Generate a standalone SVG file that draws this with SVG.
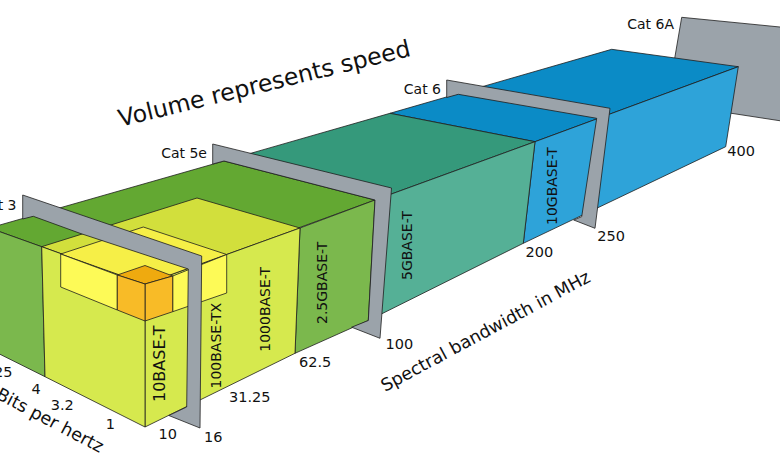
<svg xmlns="http://www.w3.org/2000/svg" width="780" height="470" viewBox="0 0 780 470">
<style>
  .e { stroke: #1e1e1e; stroke-width: 0.8; stroke-linejoin: round; }
  .plate { fill: #9ba3aa; }
  .blueT { fill: #0b8bc6; } .blueF { fill: #2ea3d9; }
  .tealT { fill: #35997b; } .tealF { fill: #55b096; }
  .grnT { fill: #63a832; } .grnF { fill: #7bb84d; }
  .lygT { fill: #d2df3c; } .lygF { fill: #d6e94e; }
  .yelT { fill: #f6ef47; } .yelF { fill: #fdfa57; }
  .orgT { fill: #efaa0f; } .orgF { fill: #f8bb27; }
  text { font-family: "DejaVu Sans", "Liberation Sans", sans-serif; fill: #111; }
  .tick { font-size: 14.5px; }
  .cat { font-size: 14px; text-anchor: end; }
  .std { font-size: 14px; }
  .axis { font-size: 17.5px; }
</style>
<rect width="780" height="470" fill="#ffffff"/>

<g id="cat6a">
  <polygon class="plate e" points="681.7,17.3 790,28 790,122.3 667,103.4"/>
</g>

<g id="box-10gbase-t">
  <polygon class="blueT e" points="390,113.3 611.7,49.3 738.3,66.7 535,141.7"/>
  <polygon class="blueF e" points="535,141.7 738.3,66.7 725.7,146.7 523.3,243.3"/>
</g>

<g id="box-5gbase-t">
  <polygon class="tealT e" points="224,161 390,113.3 535,141.7 375,200"/>
  <polygon class="tealF e" points="375,200 535,141.7 523.3,243.3 368.3,320.5"/>
</g>

<g id="box-2-5gbase-t">
  <polygon class="grnT e" points="-10.6,228 224,161 375,200 145,284"/>
  <polygon class="grnF e" points="300,228 375,200 368.3,320.5 295,353.3"/>
  <polygon class="grnF e" points="-10.6,228 41.7,246.7 45,376.7 -10.6,349"/>
</g>

<g id="box-1000base-t">
  <polygon class="lygT e" points="41.7,246.7 197,198 300,228 145,284"/>
  <polygon class="lygF e" points="145,284 300,228 295,353.3 145,427"/>
  <polygon class="lygF e" points="145,284 41.7,246.7 45,376.7 145,427"/>
</g>

<g id="box-100base-tx">
  <polygon class="yelT e" points="60.7,254 143.3,227 226.7,254.5 145,284"/>
  <polygon class="yelF e" points="172.7,276 226.7,254.5 226.7,293 172.7,311.7"/>
  <polygon class="yelF e" points="117.3,275 60.7,254 60.7,287 117.3,310"/>
</g>

<g id="box-10base-t">
  <polygon class="orgT e" points="117.3,275 145,265.5 172.7,276 145,284"/>
  <polygon class="orgF e" points="145,284 172.7,276 172.7,311.7 145,321"/>
  <polygon class="orgF e" points="145,284 117.3,275 117.3,310 145,321"/>
</g>

<g id="cat6">
  <polygon class="plate e" points="446.7,80 610,108.3 595,228.3 573.7,220 581.7,216.7 596.7,118.3 458.3,94.3 446.7,97.5"/>
</g>
<g id="cat5e">
  <polygon class="plate e" points="212.7,144 391.5,188 380,338.3 351.6,327.2 368.3,320.5 375,200 224,161 212.7,164"/>
</g>
<g id="cat3">
  <polygon class="plate e" points="22.7,195 201.7,256 200,428 168.8,415.5 186.7,407 188.3,269 80,233.3 33.3,216.3 22.7,219"/>
</g>

<g id="connectors"></g>

<g id="labels-standards">
  <text class="std" style="font-size:16px" transform="translate(165,402) rotate(-90)">10BASE-T</text>
  <text class="std" transform="translate(220.7,388.5) rotate(-90)">100BASE-TX</text>
  <text class="std" transform="translate(270,351.7) rotate(-90)">1000BASE-T</text>
  <text class="std" transform="translate(326.7,324) rotate(-90)">2.5GBASE-T</text>
  <text class="std" transform="translate(411.7,280) rotate(-90)">5GBASE-T</text>
  <text class="std" transform="translate(556.7,225) rotate(-90)">10GBASE-T</text>
</g>

<g id="labels-cables">
  <text class="cat" x="16.5" y="209.5">Cat 3</text>
  <text class="cat" x="207" y="158.3">Cat 5e</text>
  <text class="cat" x="441" y="93.8">Cat 6</text>
  <text class="cat" x="674" y="29">Cat 6A</text>
</g>

<g id="axis-bandwidth">
  <text class="tick" x="158.5" y="439.3">10</text>
  <text class="tick" x="204" y="441.7">16</text>
  <text class="tick" x="229" y="401.7">31.25</text>
  <text class="tick" x="299" y="367.3">62.5</text>
  <text class="tick" x="385.5" y="349.3">100</text>
  <text class="tick" x="525.5" y="257.3">200</text>
  <text class="tick" x="597.3" y="241">250</text>
  <text class="tick" x="727.3" y="156">400</text>
  <text class="axis" transform="translate(385,392) rotate(-28.3)">Spectral bandwidth in MHz</text>
</g>

<g id="axis-bits">
  <text class="tick" x="105.7" y="429.3">1</text>
  <text class="tick" x="50.7" y="410">3.2</text>
  <text class="tick" x="31.6" y="394">4</text>
  <text class="tick" x="12.5" y="377.3" text-anchor="end">6.25</text>
  <text class="axis" transform="translate(-5,398) rotate(27.8)">Bits per hertz</text>
</g>

<g id="title">
  <text style="font-size:23.6px" transform="translate(120.6,126.8) rotate(-13.7)">Volume represents speed</text>
</g>
</svg>
